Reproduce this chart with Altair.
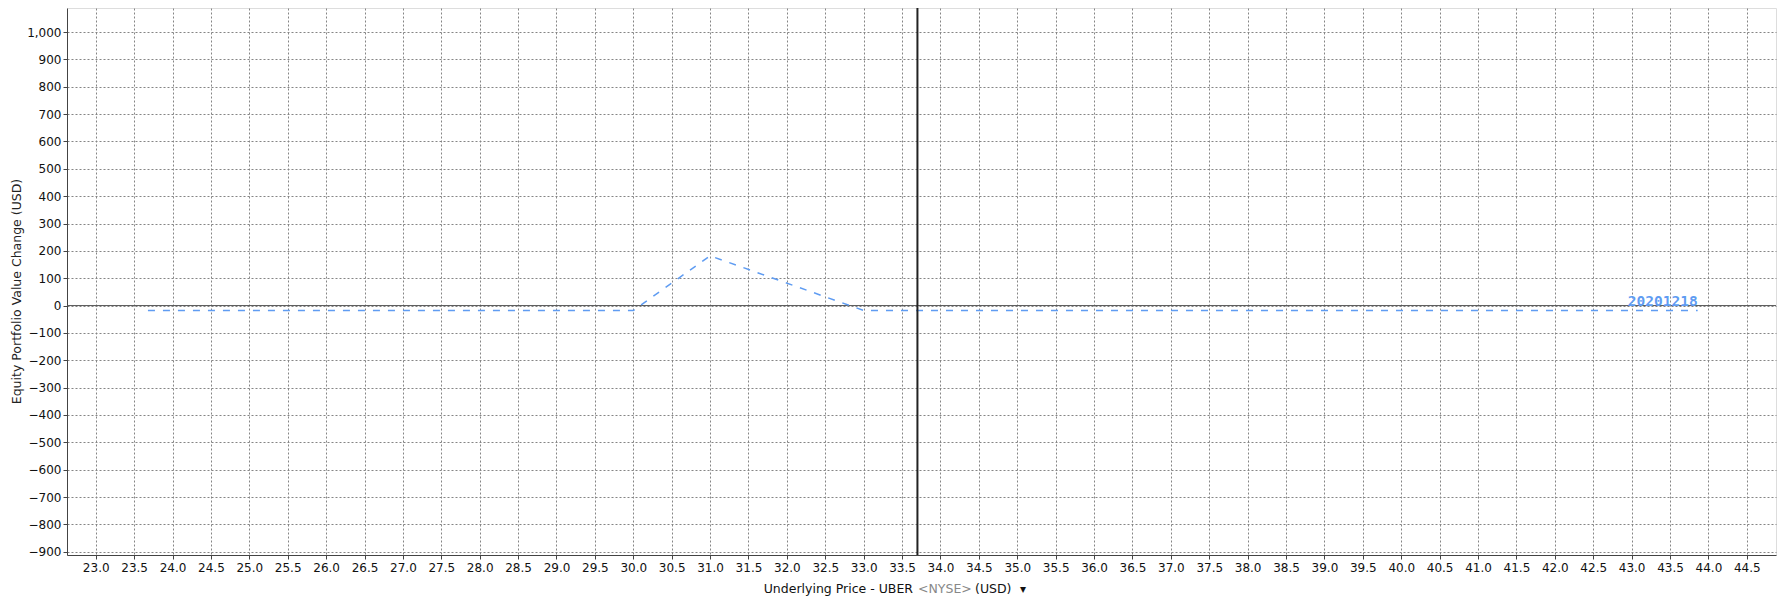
import altair as alt
import pandas as pd

# Data
prices = [23.68, 30.0, 31.0, 33.0, 43.86]
pnl = [-18, -18, 182, -18, -18]
series_label = "20201218"
current_price = 33.7
x_ticks = [round(23.0 + 0.5 * i, 1) for i in range(44)]
y_ticks = list(range(-900, 1001, 100))

X_DOMAIN = [22.626, 44.88]
Y_DOMAIN = [-912, 1088]
W, H = 1709, 547
FONT = "DejaVu Sans"
BLUE = "#5f9cf2"

df = pd.DataFrame({"price": prices, "pnl": pnl})
last = pd.DataFrame({"price": [prices[-1]], "pnl": [pnl[-1]], "label": [series_label]})
zero = pd.DataFrame({"price": [current_price], "pnl": [0]})
cur = pd.DataFrame({"price": [current_price], "pnl": [0]})

xs = alt.Scale(domain=X_DOMAIN, nice=False, zero=False)
ys = alt.Scale(domain=Y_DOMAIN, nice=False, zero=False)

x_axis = alt.Axis(
    values=x_ticks, format=".1f", title=None,
    grid=True, gridColor="#858585", gridDash=[2, 2], gridWidth=1,
    domainColor="#444444", tickColor="#444444", tickSize=4,
    labelFont=FONT, labelFontSize=12, labelColor="#111111", labelPadding=3,
    labelFlush=False, labelOverlap=False,
)
y_axis = alt.Axis(
    values=y_ticks, format=",.0f", title="Equity Portfolio Value Change (USD)",
    grid=True, gridColor="#858585", gridDash=[2, 2], gridWidth=1,
    domainColor="#444444", tickColor="#444444", tickSize=4,
    labelFont=FONT, labelFontSize=12, labelColor="#111111", labelPadding=2,
    labelFlush=False, labelOverlap=False,
    titleFont=FONT, titleFontSize=12.5, titleFontWeight="normal", titleColor="#222222",
    titleX=-44, titleY=283, titleAngle=-90, titleBaseline="bottom",
)

X = alt.X("price:Q", scale=xs, axis=x_axis)
Y = alt.Y("pnl:Q", scale=ys, axis=y_axis)

zero_rule = alt.Chart(zero).mark_rule(color="#555555", strokeWidth=1).encode(y=Y)

base = alt.Chart(df).mark_line(
    color=BLUE, strokeWidth=1.5, strokeDash=[7, 8]
).encode(x=X, y=Y)

cur_rule = alt.Chart(cur).mark_rule(color="#222222", strokeWidth=2).encode(x=X)

label = alt.Chart(last).mark_text(
    align="right", baseline="bottom", dy=-1, font="DejaVu Sans Mono",
    fontSize=14.5, fontWeight="bold", color=BLUE,
).encode(x=X, y=Y, text="label:N")

# x-axis title pieces (mixed colours)
def title_piece(txt, xpos, align, color, size=12.5):
    return alt.Chart(pd.DataFrame({"t": [txt]})).mark_text(
        align=align, baseline="middle", font=FONT, fontSize=size, color=color
    ).encode(x=alt.value(xpos), y=alt.value(581), text="t:N")

t1 = title_piece("Underlying Price - UBER", 913 - 67, "right", "#111111")
t2 = title_piece("<NYSE>", 918 - 67, "left", "#888888")
t3 = title_piece("(USD)", 975 - 67, "left", "#111111")
t4 = title_piece("▾", 1023 - 67, "center", "#111111", 12)

chart = alt.layer(zero_rule, base, cur_rule, label, t1, t2, t3, t4).properties(
    width=W, height=H,
    autosize=alt.AutoSizeParams(type="none"),
    padding={"left": 59, "top": 0, "right": 5, "bottom": 43},
).configure_view(stroke="#b0b0b0", strokeWidth=1).configure(background="white")

chart.save("out.html", embed_options={"renderer": "svg", "actions": False})
